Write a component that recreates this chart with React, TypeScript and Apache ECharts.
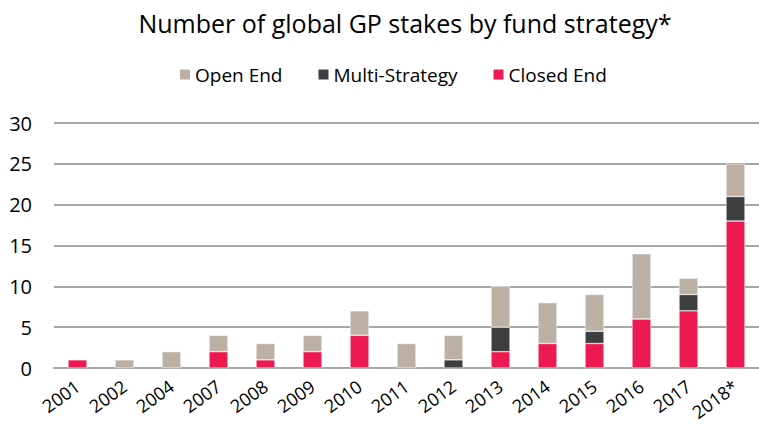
import React, { useEffect, useRef } from "react";
import * as echarts from "echarts";

const categories = ["2001", "2002", "2004", "2007", "2008", "2009", "2010", "2011", "2012", "2013", "2014", "2015", "2016", "2017", "2018*"];
const closedEnd = [1, 0, 0, 2, 1, 2, 4, 0, 0, 2, 3, 3, 6, 7, 18];
const multiStrategy = [0, 0, 0, 0, 0, 0, 0, 0, 1, 3, 0, 1.5, 0, 2, 3];
const openEnd = [0, 1, 2, 2, 2, 2, 3, 3, 3, 5, 5, 4.5, 8, 2, 4];

const FONT = "'Open Sans', 'Noto Sans', sans-serif";

export default function App() {
  const ref = useRef<HTMLDivElement>(null);
  useEffect(() => {
    if (!ref.current) return;
    const chart = echarts.init(ref.current, null, { renderer: "svg" });
    const toData = (arr: number[]) => arr.map((v) => (v === 0 ? null : v));
    chart.setOption({
      animation: false,
      backgroundColor: "#ffffff",
      textStyle: { fontFamily: FONT },
      title: {
        text: "Number of global GP stakes by fund strategy*",
        left: 400,
        textAlign: "center",
        top: 5,
        textStyle: { fontFamily: FONT, fontSize: 25, fontWeight: "normal", color: "#000000" },
      },
      legend: {
        data: ["Open End", "Multi-Strategy", "Closed End"],
        top: 60,
        left: 173,
        itemWidth: 12,
        itemHeight: 12,
        itemGap: 34,
        icon: "rect",
        textStyle: { fontFamily: FONT, fontSize: 19, color: "#000000", padding: [0, 0, 0, -1] },
      },
      grid: { left: 54, right: 0, top: 123, bottom: 62, containLabel: false },
      xAxis: {
        type: "category",
        data: categories,
        axisLine: { show: true, lineStyle: { color: "#a6a6a6", width: 2 } },
        axisTick: { show: false },
        axisLabel: {
          rotate: 36,
          fontFamily: FONT,
          fontSize: 18,
          color: "#000000",
          margin: 16,
          interval: 0,
        },
      },
      yAxis: {
        type: "value",
        min: 0,
        max: 30,
        interval: 5,
        axisLine: { show: false },
        axisTick: { show: false },
        splitLine: { lineStyle: { color: "#a6a6a6", width: 2 } },
        axisLabel: { fontFamily: FONT, fontSize: 20, color: "#000000", margin: 22 },
      },
      series: [
        {
          name: "Closed End",
          type: "bar",
          stack: "total",
          data: toData(closedEnd),
          barWidth: 19,
          itemStyle: { color: "#ec1a50", borderColor: "#ffffff", borderWidth: 0.5 },
        },
        {
          name: "Multi-Strategy",
          type: "bar",
          stack: "total",
          data: toData(multiStrategy),
          barWidth: 19,
          itemStyle: { color: "#3d3e40", borderColor: "#ffffff", borderWidth: 0.5 },
        },
        {
          name: "Open End",
          type: "bar",
          stack: "total",
          data: toData(openEnd),
          barWidth: 19,
          itemStyle: { color: "#bcb0a5", borderColor: "#ffffff", borderWidth: 0.5 },
        },
      ],
    });
    return () => chart.dispose();
  }, []);
  return (
    <div
      ref={ref}
      style={{ position: "absolute", left: 0, top: 0, width: 759, height: 430 }}
    />
  );
}
